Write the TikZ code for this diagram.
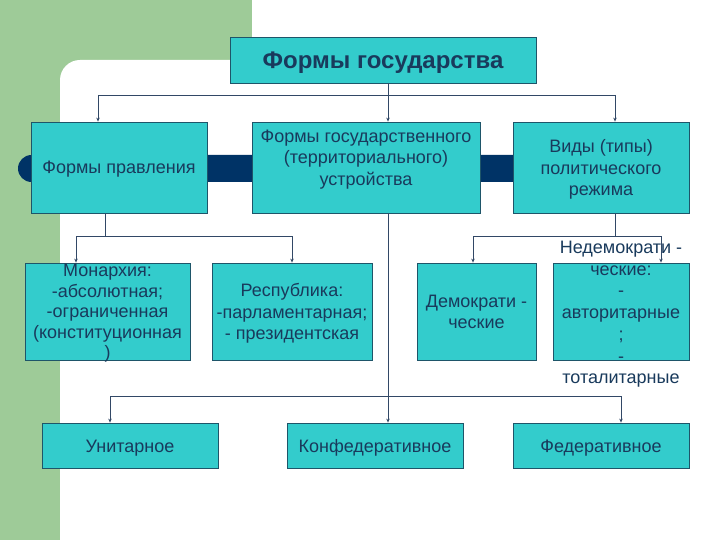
\documentclass[tikz,border=0pt]{standalone}
\usepackage{fontspec}
\setmainfont{Liberation Sans}
\usetikzlibrary{arrows.meta}
\definecolor{bggreen}{RGB}{158,203,152}
\definecolor{turq}{RGB}{51,204,204}
\definecolor{boxline}{RGB}{30,85,105}
\definecolor{txt}{RGB}{25,58,92}
\definecolor{barblue}{RGB}{0,51,102}
\definecolor{conn}{RGB}{50,72,102}
\begin{document}
\begin{tikzpicture}[x=1pt,y=-1pt,
  box/.style={draw=boxline, line width=0.8pt, fill=turq, text=txt,
    font=\fontsize{18}{21.3}\selectfont, align=center, inner sep=0pt, text depth=0pt},
  oneline/.style={text height=13pt, text depth=0pt},
  lbl/.style={text=txt, font=\fontsize{18}{21.5}\selectfont, align=center, inner sep=0pt, text depth=0pt},
  line/.style={draw=conn, line width=0.8pt},
  arr/.style={line, -{Stealth[length=4pt,width=3.5pt]}}]
\useasboundingbox (0,0) rectangle (720,540);
% background
\fill[bggreen] (0,0) rectangle (720,540);
\fill[white] (252,0) rectangle (720,100);
\fill[white, rounded corners=20pt] (60,60) rectangle (760,580);
\fill[barblue, rounded corners=13.5pt] (18,155) rectangle (540,182);
% boxes
\node[box, oneline, text height=17pt, minimum width=306pt, minimum height=46pt, font=\bfseries\fontsize{24}{28}\selectfont] (top) at (383,60) {Формы государства};
\node[box, oneline, minimum width=176pt, minimum height=91pt] (fp) at (119,167.5) {Формы правления};
\node[box, minimum width=228pt, minimum height=91pt] (mid) at (366,167.5) {};
\node[lbl, anchor=north] (midt) at ([yshift=-8pt]mid.north) {Формы государственного\\(территориального)\\устройства};
\node[box, minimum width=176pt, minimum height=91pt] (vid) at (601,167.5) {Виды (типы)\\политического\\режима};
\node[box, minimum width=165pt, minimum height=97pt, font=\fontsize{18}{20.6}\selectfont] (mon) at (107.5,311.5) {Монархия:\\-абсолютная;\\-ограниченная\\(конституционная\\)};
\node[box, minimum width=160pt, minimum height=97pt] (rep) at (292,311.5) {Республика:\\-парламентарная;\\- президентская};
\node[box, minimum width=119pt, minimum height=97pt] (dem) at (476.5,311.5) {Демократи -\\ческие};
\node[box, minimum width=136pt, minimum height=97pt] (ndem) at (621,311.5) {};
\node[lbl, font=\fontsize{18}{21.7}\selectfont] (ndemt) at (621,312.5) {Недемократи -\\ческие:\\-\\авторитарные\\;\\-\\тоталитарные};
\node[box, oneline, minimum width=176pt, minimum height=45pt] (uni) at (130,445.5) {Унитарное};
\node[box, oneline, minimum width=176pt, minimum height=45pt] (conf) at (375,445.5) {Конфедеративное};
\node[box, oneline, minimum width=176pt, minimum height=45pt] (fed) at (601,445.5) {Федеративное};
% junctions
\coordinate (j1) at (388,95);
\coordinate (j1l) at (98,95);
\coordinate (j1r) at (615,95);
\coordinate (j2) at (105,236);
\coordinate (j2l) at (76,236);
\coordinate (j2r) at (292,236);
\coordinate (j3) at (615,236);
\coordinate (j3l) at (473,236);
\coordinate (j3r) at (661,236);
\coordinate (j4) at (388,396);
\coordinate (j4l) at (110,396);
\coordinate (j4r) at (621,396);
% connectors
\draw[line] (j1 |- top.south) -- (j1);
\draw[line] (j1l) -- (j1r);
\draw[arr] (j1l) -- (j1l |- fp.north);
\draw[arr] (j1) -- (j1 |- mid.north);
\draw[arr] (j1r) -- (j1r |- vid.north);
\draw[line] (j2 |- fp.south) -- (j2);
\draw[line] (j2l) -- (j2r);
\draw[arr] (j2l) -- (j2l |- mon.north);
\draw[arr] (j2r) -- (j2r |- rep.north);
\draw[line] (j3 |- vid.south) -- (j3);
\draw[line] (j3l) -- (j3r);
\draw[arr] (j3l) -- (j3l |- dem.north);
\draw[arr] (j3r) -- (j3r |- ndem.north);
\draw[line] (j4 |- mid.south) -- (j4);
\draw[line] (j4l) -- (j4r);
\draw[arr] (j4l) -- (j4l |- uni.north);
\draw[arr] (j4) -- (j4 |- conf.north);
\draw[arr] (j4r) -- (j4r |- fed.north);
\end{tikzpicture}
\end{document}
